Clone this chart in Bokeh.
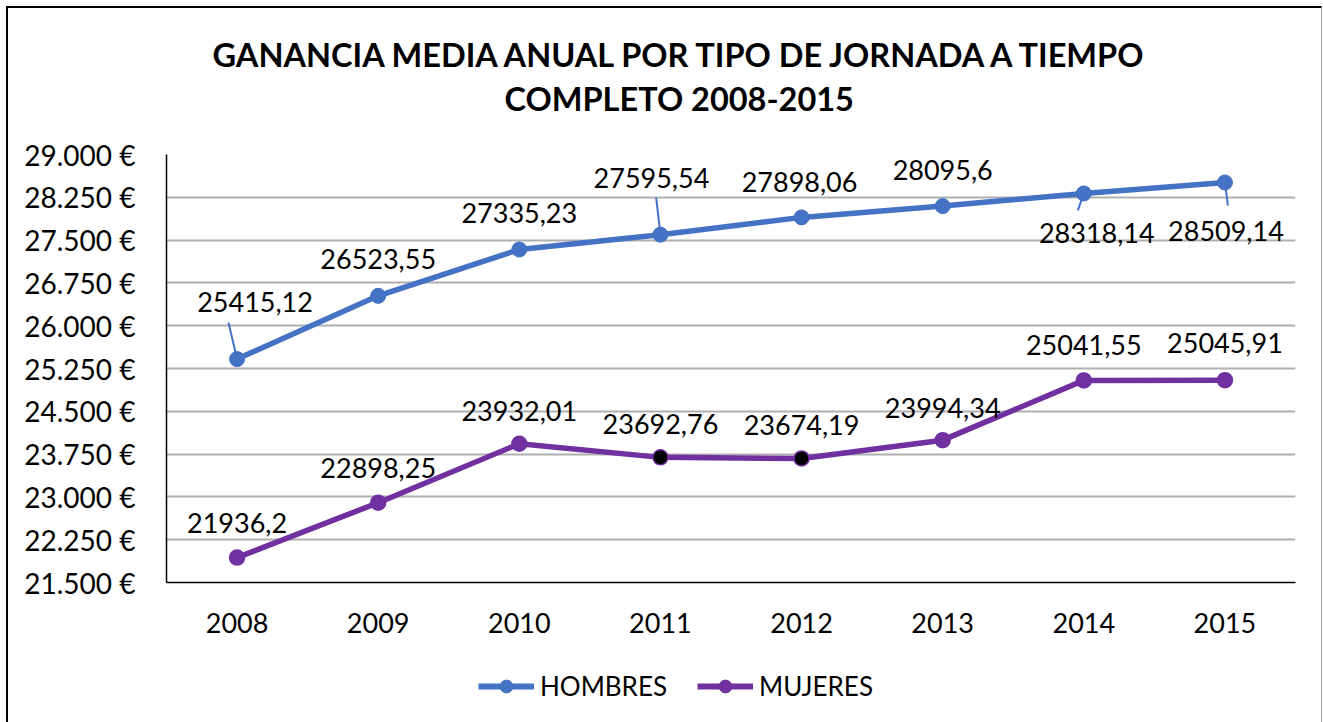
from bokeh.plotting import figure
from bokeh.layouts import column
from bokeh.models import (ColumnDataSource, Range1d, FactorRange, FixedTicker,
                          Title, Legend, LegendItem)
from bokeh.core.properties import value
from bokeh.embed import file_html
from bokeh.resources import INLINE

# ---------------- data ----------------
years = ["2008", "2009", "2010", "2011", "2012", "2013", "2014", "2015"]
hombres = [25415.12, 26523.55, 27335.23, 27595.54, 27898.06, 28095.6, 28318.14, 28509.14]
mujeres = [21936.2, 22898.25, 23932.01, 23692.76, 23674.19, 23994.34, 25041.55, 25045.91]
series_names = ["HOMBRES", "MUJERES"]
y_ticks = [21500, 22250, 23000, 23750, 24500, 25250, 26000, 26750, 27500, 28250, 29000]
y_tick_labels = ["21.500 €", "22.250 €", "23.000 €", "23.750 €", "24.500 €", "25.250 €",
                 "26.000 €", "26.750 €", "27.500 €", "28.250 €", "29.000 €"]
title_lines = ["GANANCIA MEDIA ANUAL POR TIPO DE JORNADA A TIEMPO", "COMPLETO 2008-2015"]

# ---------------- styles ----------------
FONT = "Lato"
BLUE = "#4472C4"
PURPLE = "#7030A0"
series_colors = [BLUE, PURPLE]
hombres_lbl_dx = [18, 0, 0, -9, -2, 0, 13, 1]
hombres_lbl_dy = [-57, -37, -37, -57, -35, -36, 40, 48]
mujeres_lbl_dx = [0, 0, 0, 0, 0, 0, 0, 0]
mujeres_lbl_dy = [-35, -35, -33, -33, -33, -32, -35, -37]
mujeres_marker_fill = [PURPLE, PURPLE, PURPLE, "black", "black", PURPLE, PURPLE, PURPLE]
# leader lines for hombres labels: index -> (length px, angle deg)
hombres_leaders = {0: (37.6, 103.2), 3: (37.2, 96.6), 6: (18.0, 250.6), 7: (23.2, 277.4)}


def fmt(v):
    s = f"{v:.2f}".rstrip("0").rstrip(".")
    return s.replace(".", ",")


p = figure(x_range=FactorRange(*years, range_padding=0),
           y_range=Range1d(21500, 29000),
           title=None,
           frame_width=1129, frame_height=428,
           min_border_left=158, min_border_right=26,
           min_border_top=146, min_border_bottom=70,
           output_backend="svg", toolbar_location=None,
           background_fill_color="white", border_fill_color="white")
p.outline_line_color = None

# axes
p.yaxis.ticker = FixedTicker(ticks=y_ticks)
p.yaxis.major_label_overrides = {t: l for t, l in zip(y_ticks, y_tick_labels)}
for ax in (p.xaxis[0], p.yaxis[0]):
    ax.axis_line_color = "black"
    ax.axis_line_width = 1.5
    ax.major_tick_line_color = None
    ax.minor_tick_line_color = None
    ax.major_label_text_font = FONT
    ax.major_label_text_color = "black"
p.yaxis.major_label_text_font_size = "28px"
p.xaxis.major_label_text_font_size = "27px"
p.yaxis.major_label_standoff = 25
p.xaxis.major_label_standoff = 24
p.xgrid.grid_line_color = None
p.ygrid.grid_line_color = "#b0b0b0"
p.ygrid.grid_line_width = 2

# leader lines
lead_idx = sorted(hombres_leaders)
lead_src = ColumnDataSource(dict(
    x=[years[i] for i in lead_idx], y=[hombres[i] for i in lead_idx],
    length=[hombres_leaders[i][0] for i in lead_idx],
    angle=[hombres_leaders[i][1] for i in lead_idx]))
p.ray(x="x", y="y", length="length", angle="angle", length_units="screen",
      angle_units="deg", source=lead_src, line_color=BLUE, line_width=2)

# series
hs = ColumnDataSource(dict(x=years, y=hombres, t=[fmt(v) for v in hombres],
                           dx=hombres_lbl_dx, dy=hombres_lbl_dy))
ms = ColumnDataSource(dict(x=years, y=mujeres, t=[fmt(v) for v in mujeres],
                           dx=mujeres_lbl_dx, dy=mujeres_lbl_dy, fc=mujeres_marker_fill))
sources = [hs, ms]

p.line("x", "y", source=hs, line_color=BLUE, line_width=5.5, line_join="round")
p.scatter("x", "y", source=hs, size=15, fill_color=BLUE, line_color=BLUE)
p.line("x", "y", source=ms, line_color=PURPLE, line_width=5.5, line_join="round")
p.scatter("x", "y", source=ms, size=15, fill_color="fc", line_color=PURPLE, line_width=1.5)

for src in sources:
    p.text(x="x", y="y", text="t", x_offset="dx", y_offset="dy", source=src,
           text_align="center", text_baseline="middle",
           text_font=value(FONT), text_font_size="27px", text_color="black")

# title (panels added first sit closest to the plot)
p.add_layout(Title(text=" ", standoff=34, text_font_size="1px"), "above")
p.add_layout(Title(text=title_lines[1], align="left", offset=338, standoff=0,
                   text_font=FONT, text_font_style="bold", text_font_size="32.5px",
                   text_color="black"), "above")
p.add_layout(Title(text=title_lines[0], align="left", offset=46, standoff=5,
                   text_font=FONT, text_font_style="bold", text_font_size="32.5px",
                   text_color="black"), "above")

# legend strip below the chart (series drawn outside its visible range, only the
# legend swatches show)
leg = figure(width=1313, height=70, x_range=p.x_range, y_range=Range1d(0, 1),
             min_border_left=0, min_border_right=0, min_border_top=0, min_border_bottom=0,
             x_axis_location=None, y_axis_location=None,
             output_backend="svg", toolbar_location=None,
             background_fill_color="white", border_fill_color="white")
leg.outline_line_color = None
leg.xgrid.grid_line_color = None
leg.ygrid.grid_line_color = None
items = []
for name, col, src in zip(series_names, series_colors, sources):
    r1 = leg.line("x", "y", source=src, line_color=col, line_width=6)
    r2 = leg.scatter("x", "y", source=src, size=15, fill_color=col, line_color=col)
    items.append(LegendItem(label=name, renderers=[r1, r2]))
legend = Legend(items=items, location=(312, 20), orientation="horizontal",
                label_text_font=FONT, label_text_font_size="26px",
                label_text_color="black", glyph_width=56, glyph_height=32,
                label_standoff=6, spacing=30, padding=0, margin=0,
                border_line_color=None, background_fill_alpha=0)
leg.add_layout(legend, "center")

layout = column(p, leg, spacing=0)
layout.styles = {"margin-left": "6px", "margin-top": "6px",
                 "border-left": "2px solid black", "border-top": "2px solid black",
                 "border-right": "1px solid #a6a6a6"}

open("out.html", "w").write(file_html(layout, INLINE))
